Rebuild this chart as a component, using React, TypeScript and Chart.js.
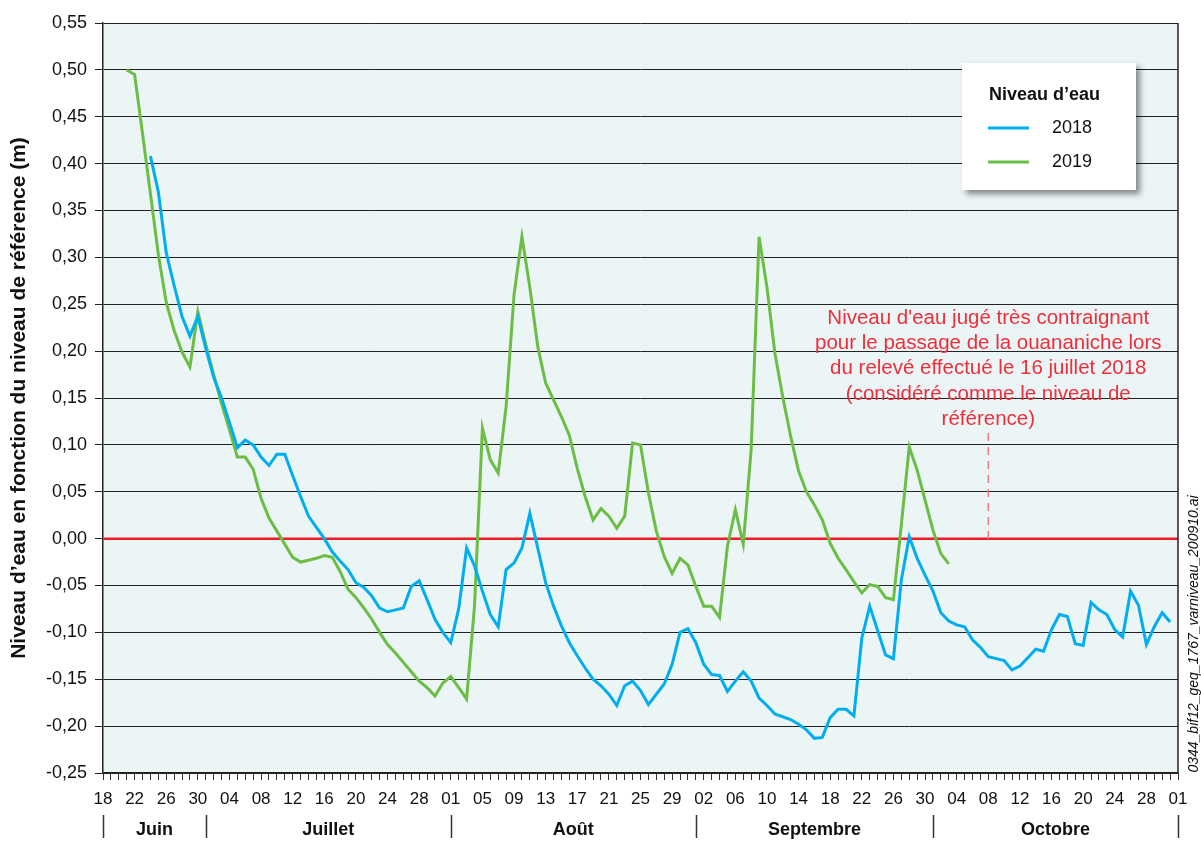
import React, { useEffect, useRef } from "react";
import { Chart, registerables } from "chart.js";

Chart.register(...registerables);

const W = 1201;
const H = 842;
const FONT = "'Liberation Sans', Arial, Helvetica, sans-serif";

// Day index 0 = 18 juin, 136 = 1er novembre
const startDay2018 = 6;
const niveau2018 = [
  0.408, 0.37, 0.305, 0.27, 0.237, 0.216, 0.237, 0.203, 0.172, 0.15,
  0.124, 0.097, 0.105, 0.1, 0.087, 0.078, 0.09, 0.09, 0.067, 0.045,
  0.024, 0.012, 0.0, -0.014, -0.024, -0.033, -0.047, -0.052, -0.061, -0.074,
  -0.078, -0.076, -0.074, -0.051, -0.045, -0.065, -0.086, -0.1, -0.111, -0.075,
  -0.01, -0.029, -0.056, -0.081, -0.094, -0.033, -0.026, -0.01, 0.027, -0.01,
  -0.047, -0.072, -0.093, -0.111, -0.125, -0.138, -0.15, -0.157, -0.166, -0.178,
  -0.157, -0.152, -0.162, -0.177, -0.166, -0.155, -0.134, -0.1, -0.096, -0.111,
  -0.134, -0.145, -0.146, -0.163, -0.152, -0.142, -0.152, -0.17, -0.178, -0.187,
  -0.19, -0.193, -0.198, -0.204, -0.213, -0.212, -0.191, -0.182, -0.182, -0.189,
  -0.106, -0.072, -0.098, -0.124, -0.128, -0.044, 0.002, -0.021, -0.039, -0.056,
  -0.079, -0.088, -0.092, -0.094, -0.108, -0.116, -0.126, -0.128, -0.13, -0.14,
  -0.136, -0.127, -0.118, -0.12, -0.097, -0.081, -0.083, -0.112, -0.114, -0.068,
  -0.076, -0.081, -0.097, -0.105, -0.056, -0.071, -0.113, -0.094, -0.079, -0.089,
];

const startDay2019 = 3;
const niveau2019 = [
  0.5, 0.495, 0.432, 0.368, 0.303, 0.252, 0.222, 0.199, 0.183, 0.242,
  0.207, 0.175, 0.144, 0.116, 0.087, 0.087, 0.074, 0.043, 0.022, 0.008,
  -0.006, -0.02, -0.025, -0.023, -0.021, -0.018, -0.02, -0.035, -0.054, -0.063,
  -0.074, -0.086, -0.1, -0.113, -0.122, -0.132, -0.142, -0.152, -0.159, -0.168,
  -0.154, -0.147, -0.159, -0.171, -0.072, 0.118, 0.084, 0.07, 0.141, 0.26,
  0.322, 0.268, 0.205, 0.166, 0.148, 0.13, 0.11, 0.075, 0.045, 0.02,
  0.032, 0.024, 0.011, 0.024, 0.102, 0.1, 0.049, 0.008, -0.019, -0.037,
  -0.021, -0.028, -0.051, -0.072, -0.072, -0.084, -0.008, 0.031, -0.006, 0.095,
  0.322, 0.268, 0.198, 0.151, 0.109, 0.072, 0.05, 0.036, 0.02, -0.005,
  -0.021, -0.033, -0.046, -0.058, -0.049, -0.051, -0.063, -0.065, 0.015, 0.098,
  0.073, 0.041, 0.009, -0.016, -0.027,
];

const xTickLabels = [
  "18", "22", "26", "30",
  "04", "08", "12", "16", "20", "24", "28",
  "01", "05", "09", "13", "17", "21", "25", "29",
  "02", "06", "10", "14", "18", "22", "26", "30",
  "04", "08", "12", "16", "20", "24", "28",
  "01",
];
const months = ["Juin", "Juillet", "Août", "Septembre", "Octobre"];
const monthStartDays = [0, 13, 44, 75, 105, 136];

const annotationLines = [
  "Niveau d'eau jugé très contraignant",
  "pour le passage de la ouananiche lors",
  "du relevé effectué le 16 juillet 2018",
  "(considéré comme le niveau de",
  "référence)",
];
const annotationDay = 112;

const seriesNames = ["2018", "2019"];
const seriesColors = ["#00AEEF", "#6CBD45"];
const legendTitle = "Niveau d’eau";
const yTitle = "Niveau d’eau en fonction du niveau de référence (m)";
const fileName = "0344_bif12_geq_1767_varniveau_200910.ai";

function toPoints(start: number, vals: number[]) {
  return vals.map((v, i) => ({ x: start + i, y: v }));
}

const decorPlugin = {
  id: "decor",
  beforeDraw(chart: any) {
    const { ctx, chartArea } = chart;
    ctx.save();
    ctx.fillStyle = "#ffffff";
    ctx.fillRect(0, 0, chart.width, chart.height);
    ctx.fillStyle = "#EBF5F6";
    ctx.fillRect(chartArea.left, chartArea.top, chartArea.right - chartArea.left, chartArea.bottom - chartArea.top);
    ctx.restore();
  },
  beforeDatasetsDraw(chart: any) {
    const { ctx, chartArea, scales } = chart;
    const y0 = scales.y.getPixelForValue(0);
    ctx.save();
    ctx.strokeStyle = "#EE1C25";
    ctx.lineWidth = 2.5;
    ctx.beginPath();
    ctx.moveTo(chartArea.left, y0);
    ctx.lineTo(chartArea.right, y0);
    ctx.stroke();
    ctx.restore();
  },
  afterDraw(chart: any) {
    const { ctx, chartArea, scales } = chart;
    const xs = scales.x;
    const ys = scales.y;
    ctx.save();

    // right border
    ctx.strokeStyle = "#222";
    ctx.lineWidth = 1.5;
    ctx.beginPath();
    ctx.moveTo(chartArea.right, chartArea.top);
    ctx.lineTo(chartArea.right, chartArea.bottom);
    ctx.stroke();

    // annotation
    const ax = xs.getPixelForValue(annotationDay);
    ctx.fillStyle = "#EE2E3A";
    ctx.font = `20.5px ${FONT}`;
    ctx.textAlign = "center";
    ctx.textBaseline = "middle";
    annotationLines.forEach((t, i) => ctx.fillText(t, ax, 318 + i * 25.3));
    ctx.strokeStyle = "#F07A86";
    ctx.lineWidth = 1.5;
    ctx.setLineDash([8, 6]);
    ctx.beginPath();
    ctx.moveTo(ax, 433);
    ctx.lineTo(ax, ys.getPixelForValue(0));
    ctx.stroke();
    ctx.setLineDash([]);

    // legend box
    ctx.save();
    ctx.shadowColor = "rgba(0,0,0,0.45)";
    ctx.shadowBlur = 6;
    ctx.shadowOffsetX = 4;
    ctx.shadowOffsetY = 4;
    ctx.fillStyle = "#ffffff";
    ctx.fillRect(962, 63, 174, 127);
    ctx.restore();
    ctx.fillStyle = "#111";
    ctx.textAlign = "left";
    ctx.textBaseline = "middle";
    ctx.font = `bold 18px ${FONT}`;
    ctx.fillText(legendTitle, 989, 95);
    seriesNames.forEach((n, i) => {
      const yy = 128 + i * 34;
      ctx.strokeStyle = seriesColors[i];
      ctx.lineWidth = 3;
      ctx.beginPath();
      ctx.moveTo(988, yy);
      ctx.lineTo(1029, yy);
      ctx.stroke();
      ctx.fillStyle = "#111";
      ctx.font = `18px ${FONT}`;
      ctx.fillText(n, 1052, yy);
    });

    // month row
    ctx.strokeStyle = "#333";
    ctx.lineWidth = 1.5;
    monthStartDays.forEach((d) => {
      const px = Math.round(xs.getPixelForValue(d)) + 0.5;
      ctx.beginPath();
      ctx.moveTo(px, 815);
      ctx.lineTo(px, 838);
      ctx.stroke();
    });
    ctx.fillStyle = "#111";
    ctx.font = `bold 18px ${FONT}`;
    ctx.textAlign = "center";
    months.forEach((m, i) => {
      const cx = (xs.getPixelForValue(monthStartDays[i]) + xs.getPixelForValue(monthStartDays[i + 1])) / 2;
      ctx.fillText(m, cx, 830);
    });

    // y title
    ctx.save();
    ctx.translate(19, (chartArea.top + chartArea.bottom) / 2);
    ctx.rotate(-Math.PI / 2);
    ctx.font = `bold 21px ${FONT}`;
    ctx.textAlign = "center";
    ctx.textBaseline = "middle";
    ctx.fillText(yTitle, 0, 0);
    ctx.restore();

    // file name
    ctx.save();
    ctx.translate(1194, 634);
    ctx.rotate(-Math.PI / 2);
    ctx.font = `italic 14px ${FONT}`;
    ctx.textAlign = "center";
    ctx.textBaseline = "middle";
    ctx.fillText(fileName, 0, 0);
    ctx.restore();

    ctx.restore();
  },
};

export default function App() {
  const ref = useRef<HTMLCanvasElement | null>(null);
  useEffect(() => {
    if (!ref.current) return;
    const chart = new Chart(ref.current, {
      type: "line",
      data: {
        datasets: [
          {
            label: seriesNames[0],
            data: toPoints(startDay2018, niveau2018),
            borderColor: seriesColors[0],
            borderWidth: 3,
            pointRadius: 0,
            tension: 0,
            fill: false,
          },
          {
            label: seriesNames[1],
            data: toPoints(startDay2019, niveau2019),
            borderColor: seriesColors[1],
            borderWidth: 3,
            pointRadius: 0,
            tension: 0,
            fill: false,
          },
        ],
      },
      options: {
        responsive: false,
        animation: false,
        layout: { padding: { left: 0, right: 23, top: 23, bottom: 0 } },
        plugins: { legend: { display: false }, tooltip: { enabled: false } },
        scales: {
          x: {
            type: "linear",
            min: 0,
            max: 136,
            afterFit: (s: any) => {
              s.height = 69;
            },
            grid: {
              drawOnChartArea: false,
              drawTicks: true,
              tickLength: 7,
              color: "#333",
              lineWidth: 1,
            },
            border: { display: true, color: "#222", width: 1.5 },
            ticks: {
              stepSize: 1,
              autoSkip: false,
              maxRotation: 0,
              minRotation: 0,
              maxTicksLimit: 500,
              padding: 9,
              color: "#111",
              font: { family: FONT, size: 17 },
              callback: (v: any) => {
                const n = Number(v);
                return n % 4 === 0 ? xTickLabels[n / 4] : "";
              },
            },
          },
          y: {
            min: -0.25,
            max: 0.55,
            afterFit: (s: any) => {
              s.width = 103;
            },
            grid: {
              color: "#222",
              lineWidth: 1,
              tickLength: 8,
              drawTicks: true,
            },
            border: { display: true, color: "#222", width: 1.5 },
            ticks: {
              stepSize: 0.05,
              padding: 8,
              color: "#111",
              font: { family: FONT, size: 18 },
              callback: (v: any) => Number(v).toFixed(2).replace(".", ","),
            },
          },
        },
      },
      plugins: [decorPlugin],
    });
    return () => chart.destroy();
  }, []);
  return (
    <div style={{ position: "fixed", left: 0, top: 0, width: W, height: H, background: "#fff" }}>
      <canvas ref={ref} width={W} height={H} style={{ width: W, height: H, display: "block" }} />
    </div>
  );
}
